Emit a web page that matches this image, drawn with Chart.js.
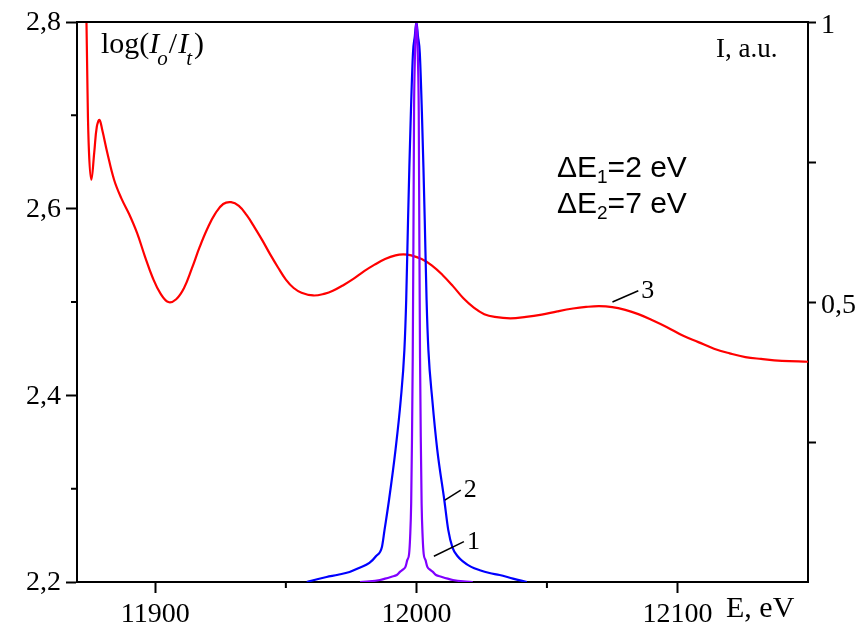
<!DOCTYPE html>
<html><head><meta charset="utf-8">
<script src="https://cdn.jsdelivr.net/npm/chart.js@4/dist/chart.umd.min.js"></script>
<style>html,body{margin:0;padding:0;background:#fff}#wrap{width:862px;height:626px}</style>
</head><body><div id="wrap"><canvas id="c" width="862" height="626"></canvas></div>
<script>
// ---- data ----
const redE = [11873.3, 11874.0, 11874.6, 11875.5, 11876.6, 11877.6, 11878.6, 11879.7, 11881.6, 11884.2, 11887, 11890, 11893, 11896, 11899, 11902, 11905, 11908, 11911, 11914, 11917, 11920, 11923, 11926, 11929, 11932, 11935, 11938, 11941, 11944, 11947, 11950, 11953, 11956, 11960.5, 11965, 11968, 11972, 11976, 11980, 11984, 11988, 11992, 11995, 11998, 12002, 12006, 12010, 12014, 12018, 12022, 12026, 12030, 12036, 12042, 12048, 12054, 12060, 12065, 12070, 12075, 12080, 12085, 12090, 12096, 12102, 12108, 12114, 12120, 12126, 12132, 12140, 12150];
const redLog = [2.87, 2.731, 2.660, 2.631, 2.660, 2.688, 2.695, 2.684, 2.660, 2.631, 2.611, 2.594, 2.574, 2.549, 2.526, 2.509, 2.500, 2.503, 2.515, 2.536, 2.559, 2.579, 2.595, 2.605, 2.607, 2.603, 2.593, 2.580, 2.566, 2.551, 2.537, 2.524, 2.515, 2.510, 2.507, 2.509, 2.512, 2.518, 2.525, 2.533, 2.540, 2.546, 2.550, 2.551, 2.550, 2.546, 2.539, 2.529, 2.517, 2.504, 2.494, 2.487, 2.484, 2.4825, 2.484, 2.4865, 2.490, 2.493, 2.4947, 2.4955, 2.4945, 2.4915, 2.487, 2.481, 2.473, 2.464, 2.457, 2.450, 2.445, 2.441, 2.439, 2.437, 2.436];

const blueE = [11958, 11962, 11965.6, 11970, 11974.4, 11978, 11982, 11984.5, 11986.8, 11987.8, 11989.5, 11992, 11994, 11995.4, 11996.1, 11996.8, 11997.3, 11997.9, 11998.7, 11999.4, 12000,
  12000.6, 12001.3, 12002.1, 12002.7, 12003.2, 12003.9, 12004.6, 12006.1, 12008, 12010.7, 12012.2, 12013.8, 12015.8, 12017.8, 12021, 12024.3, 12028, 12031.9, 12037, 12042.3];
const blueI = [0, 0.005, 0.009, 0.013, 0.018, 0.025, 0.034, 0.046, 0.0625, 0.093, 0.146, 0.236, 0.325, 0.414, 0.504, 0.646, 0.74, 0.84, 0.945, 0.975, 1,
  0.975, 0.945, 0.84, 0.74, 0.646, 0.504, 0.414, 0.325, 0.236, 0.146, 0.093, 0.062, 0.046, 0.037, 0.027, 0.021, 0.016, 0.0125, 0.006, 0];

const violetE = [11978.4, 11982, 11986, 11988, 11990.5, 11992.5, 11993.7, 11994.8, 11995.8, 11996.5, 11997.2, 11997.6, 11998.0, 11998.3, 11998.6, 11998.85, 11999.1, 11999.4, 11999.7, 12000,
  12000.3, 12000.6, 12000.9, 12001.15, 12001.4, 12001.7, 12002.0, 12002.4, 12002.8, 12003.5, 12004.2, 12005.2, 12006.3, 12007.5, 12009.5, 12012, 12014, 12018, 12021.6];
const violetI = [0, 0.001, 0.0036, 0.006, 0.0095, 0.0125, 0.018, 0.022, 0.027, 0.039, 0.05, 0.08, 0.14, 0.25, 0.4, 0.6, 0.84, 0.93, 0.98, 1,
  0.98, 0.93, 0.84, 0.6, 0.4, 0.25, 0.14, 0.08, 0.05, 0.039, 0.027, 0.022, 0.018, 0.0125, 0.0095, 0.006, 0.0036, 0.001, 0];

const xTicks = [11900, 12000, 12100];
const xMinorTicks = [11950, 12050];
const yTicks = [2.2, 2.4, 2.6, 2.8];
const yMinorTicks = [2.3, 2.5, 2.7];
const y2Ticks = [0.25, 0.5, 0.75, 1];
const y2Labels = {0.5: '0,5', 1: '1'};

// curve number labels: [text, E of line start, I of line start, E of line end, I of line end]
const curveLabels = [
  ['3', 12075.1, 0.500, 12085.0, 0.520],
  ['2', 12010.9, 0.146, 12017.0, 0.164],
  ['1', 12006.7, 0.046, 12018.2, 0.072]
];

const SERIF = "'Liberation Serif', 'Times New Roman', serif";
const SANS = "'Liberation Sans', Arial, sans-serif";

function pts(xs, ys){ return xs.map((x,i)=>({x:x, y:ys[i]})); }

function drawRuns(ctx, x, y, runs){
  for (const r of runs){
    ctx.font = r.font;
    x += (r.dx||0);
    ctx.fillText(r.t, x, y + (r.dy||0));
    x += ctx.measureText(r.t).width + (r.after||0);
  }
}

const decor = {
  id: 'decor',
  afterDraw(chart){
    const {ctx, chartArea:a, scales} = chart;
    const sx = scales.x, sy = scales.y, s2 = scales.y2;
    ctx.save();
    ctx.strokeStyle = '#000'; ctx.fillStyle = '#000';
    ctx.lineWidth = 2;
    ctx.beginPath(); ctx.moveTo(a.left-1, a.top); ctx.lineTo(a.right, a.top); ctx.stroke();
    ctx.beginPath();
    for (const v of xMinorTicks){ const p = sx.getPixelForValue(v); ctx.moveTo(p, a.bottom); ctx.lineTo(p, a.bottom+6); }
    for (const v of yMinorTicks){ const p = sy.getPixelForValue(v); ctx.moveTo(a.left-6, p); ctx.lineTo(a.left, p); }
    ctx.stroke();
    ctx.lineWidth = 1.5;
    ctx.textBaseline = 'alphabetic';
    for (const [t, e1, i1, e2, i2] of curveLabels){
      const x1 = sx.getPixelForValue(e1), y1 = s2.getPixelForValue(i1);
      const x2 = sx.getPixelForValue(e2), y2 = s2.getPixelForValue(i2);
      ctx.beginPath(); ctx.moveTo(x1, y1); ctx.lineTo(x2, y2); ctx.stroke();
      ctx.font = '26px ' + SERIF;
      ctx.fillText(t, x2 + 3, y2 + 7);
    }
    drawRuns(ctx, a.left + 24, a.top + 31, [
      {t:'log(', font:'30px ' + SERIF},
      {t:'I', font:'italic 30px ' + SERIF},
      {t:'o', font:'italic 21px ' + SERIF, dy:12, dx:-2},
      {t:'/', font:'30px ' + SERIF, dx:1},
      {t:'I', font:'italic 30px ' + SERIF, dx:1},
      {t:'t', font:'italic 21px ' + SERIF, dy:12, dx:-2},
      {t:')', font:'30px ' + SERIF, dx:2}
    ]);
    ctx.font = '27px ' + SERIF;
    ctx.fillText('I, a.u.', a.right - 92, a.top + 35);
    ctx.font = '30px ' + SERIF;
    ctx.fillText('E, eV', a.right - 82, a.bottom + 35);
    drawRuns(ctx, a.right - 251, a.top + 155, [
      {t:'\u0394E', font:'30px ' + SANS},
      {t:'1', font:'19px ' + SANS, dy:6},
      {t:'=2 eV', font:'30px ' + SANS}
    ]);
    drawRuns(ctx, a.right - 251, a.top + 191, [
      {t:'\u0394E', font:'30px ' + SANS},
      {t:'2', font:'19px ' + SANS, dy:6},
      {t:'=7 eV', font:'30px ' + SANS}
    ]);
    ctx.restore();
  }
};

const tickFont = {family: SERIF, size: 28};

new Chart(document.getElementById('c').getContext('2d'), {
  type: 'line',
  data: {
    datasets: [
      {data: pts(violetE, violetI), yAxisID:'y2', borderColor:'#8000ff', borderWidth:2.2, pointRadius:0, cubicInterpolationMode:'monotone', fill:false},
      {data: pts(blueE, blueI), yAxisID:'y2', borderColor:'#0000ff', borderWidth:2.2, pointRadius:0, cubicInterpolationMode:'monotone', fill:false},
      {data: pts(redE, redLog), yAxisID:'y', borderColor:'#ff0000', borderWidth:2.2, pointRadius:0, tension:0.4, fill:false}
    ]
  },
  options: {
    responsive: false, animation: false, devicePixelRatio: 1,
    events: [],
    plugins: {legend:{display:false}, tooltip:{enabled:false}},
    layout: {padding:{top:22, left:0, right:0, bottom:0}},
    scales: {
      x: {
        type:'linear', position:'bottom', min:11870, max:12150,
        afterBuildTicks: s => { s.ticks = xTicks.map(v => ({value:v})); },
        afterFit: s => { s.height = 44; },
        grid: {drawOnChartArea:false, drawTicks:true, tickLength:11, tickColor:'#000', tickWidth:2},
        border: {display:true, color:'#000', width:2},
        ticks: {autoSkip:false, maxRotation:0, padding:5, color:'#000', font:tickFont, callback: v => String(v)}
      },
      y: {
        type:'linear', position:'left', min:2.2, max:2.8,
        afterBuildTicks: s => { s.ticks = yTicks.map(v => ({value:v})); },
        afterFit: s => { s.width = 77; },
        grid: {drawOnChartArea:false, drawTicks:true, tickLength:11, tickColor:'#000', tickWidth:2},
        border: {display:true, color:'#000', width:2},
        ticks: {autoSkip:false, padding:5, labelOffset:1, color:'#000', font:tickFont, callback: v => v.toFixed(1).replace('.', ',')}
      },
      y2: {
        type:'linear', position:'right', min:0, max:1,
        afterBuildTicks: s => { s.ticks = y2Ticks.map(v => ({value:v})); },
        afterFit: s => { s.width = 54; },
        grid: {drawOnChartArea:false, drawTicks:true, tickLength:8, tickColor:'#000', tickWidth:2},
        border: {display:true, color:'#000', width:2},
        ticks: {autoSkip:false, padding:5, labelOffset:4, color:'#000', font:tickFont, callback: v => (y2Labels[v] || '')}
      }
    }
  },
  plugins: [decor]
});
</script>
</body></html>
